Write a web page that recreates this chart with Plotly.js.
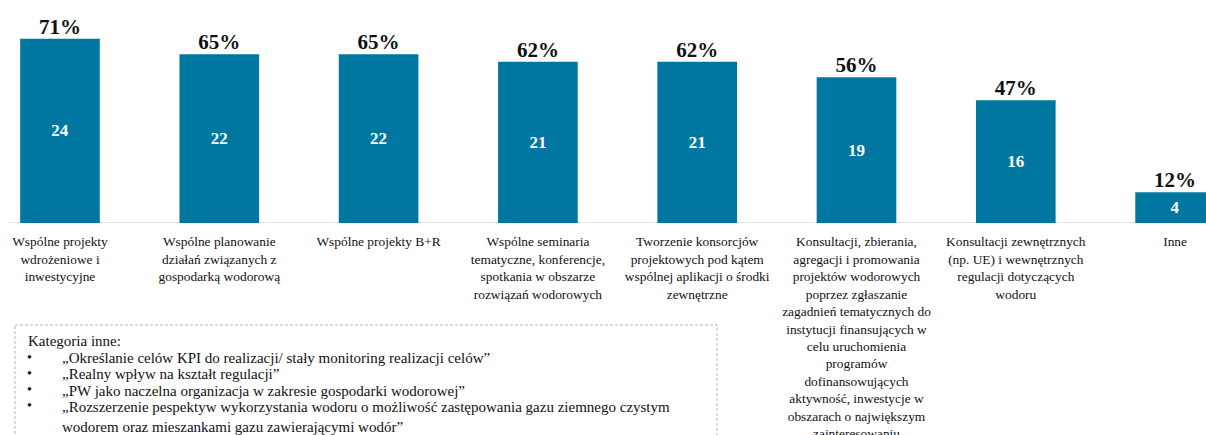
<!DOCTYPE html>
<html>
<head>
<meta charset="utf-8">
<script src="https://cdn.plot.ly/plotly-3.0.1.min.js"></script>
<style>html,body{margin:0;padding:0;background:#fff;}#chart{width:1206px;height:435px;}</style>
</head>
<body>
<div id="chart"></div>
<script>
const categories = [
  "Wspólne projekty<br>wdrożeniowe i<br>inwestycyjne",
  "Wspólne planowanie<br>działań związanych z<br>gospodarką wodorową",
  "Wspólne projekty B+R",
  "Wspólne seminaria<br>tematyczne, konferencje,<br>spotkania w obszarze<br>rozwiązań wodorowych",
  "Tworzenie konsorcjów<br>projektowych pod kątem<br>wspólnej aplikacji o środki<br>zewnętrzne",
  "Konsultacji, zbierania,<br>agregacji i promowania<br>projektów wodorowych<br>poprzez zgłaszanie<br>zagadnień tematycznych do<br>instytucji finansujących w<br>celu uruchomienia<br>programów<br>dofinansowujących<br>aktywność, inwestycje w<br>obszarach o największym<br>zainteresowaniu",
  "Konsultacji zewnętrznych<br>(np. UE) i wewnętrznych<br>regulacji dotyczących<br>wodoru",
  "Inne"
];
const counts = [24, 22, 22, 21, 21, 19, 16, 4];
const percents = [71, 65, 65, 62, 62, 56, 47, 12];
const noteTitle = "Kategoria inne:";
const notes = [
  "„Określanie celów KPI do realizacji/ stały monitoring realizacji celów”",
  "„Realny wpływ na kształt regulacji”",
  "„PW jako naczelna organizacja w zakresie gospodarki wodorowej”",
  "„Rozszerzenie pespektyw wykorzystania wodoru o możliwość zastępowania gazu ziemnego czystym<br>wodorem oraz mieszankami gazu zawierającymi wodór”"
];

const W = 1206, H = 435, T = 10, B = 212;
const plotH = H - T - B;
const py = p => (H - B - p) / plotH;
const px = p => p / W;

const BAR = '#0077a0';
const serif = "'Liberation Serif', 'Times New Roman', serif";

const traces = [
  {
    type: 'bar',
    x: categories.map((c, i) => i),
    y: counts,
    width: 0.5,
    marker: {color: BAR, line: {width: 0}},
    text: counts.map(String),
    textposition: 'inside',
    insidetextanchor: 'middle',
    constraintext: 'none',
    insidetextfont: {family: serif, size: 17, color: '#ffffff', weight: 'bold'},
    hoverinfo: 'skip',
    showlegend: false
  },
  {
    type: 'scatter',
    mode: 'text',
    x: categories.map((c, i) => i),
    y: counts,
    text: percents.map(v => v + '%'),
    textposition: 'top center',
    textfont: {family: serif, size: 21, color: '#111111', weight: 'bold'},
    cliponaxis: false,
    hoverinfo: 'skip',
    showlegend: false
  }
];

const annotations = [];
const lineH = 16.2;
let yy = 341;
annotations.push({
  xref: 'paper', yref: 'paper', x: px(26), y: py(yy), xanchor: 'left', yanchor: 'middle',
  text: noteTitle, showarrow: false, font: {family: serif, size: 15, color: '#111'}
});
notes.forEach((n, i) => {
  yy += lineH;
  annotations.push({
    xref: 'paper', yref: 'paper', x: px(25), y: py(yy), xanchor: 'left', yanchor: 'middle',
    text: '•', showarrow: false, font: {family: serif, size: 14, color: '#111'}
  });
  annotations.push({
    xref: 'paper', yref: 'paper', x: px(60), y: py(yy), xanchor: 'left', yanchor: 'top',
    yshift: 9, align: 'left',
    text: n, showarrow: false, font: {family: serif, size: 15, color: '#111'}
  });
});

const layout = {
  width: W, height: H,
  margin: {l: 0, r: 0, t: T, b: B, pad: 0},
  paper_bgcolor: '#ffffff', plot_bgcolor: '#ffffff',
  xaxis: {
    type: 'linear',
    range: [-0.3766, 7.194],
    tickmode: 'array',
    tickvals: categories.map((c, i) => i),
    ticktext: categories,
    showgrid: false, zeroline: false, showline: false,
    ticks: '', ticklabelstandoff: 9,
    tickfont: {family: serif, size: 13.4, color: '#111'},
    fixedrange: true
  },
  yaxis: {
    range: [0, 27.75],
    visible: false,
    fixedrange: true
  },
  shapes: [
    {type: 'line', xref: 'paper', yref: 'y', x0: px(9), x1: 1, y0: 0, y1: 0,
     line: {color: '#d9d9d9', width: 1.3}, layer: 'below'},
    {type: 'rect', xref: 'paper', yref: 'paper', x0: px(15), x1: px(717), y0: py(325), y1: py(445),
     line: {color: '#b5b5b5', width: 1, dash: '3px,2px'}, fillcolor: 'rgba(0,0,0,0)'}
  ],
  annotations: annotations,
  showlegend: false
};

Plotly.newPlot('chart', traces, layout, {displayModeBar: false, staticPlot: true});
</script>
</body>
</html>
